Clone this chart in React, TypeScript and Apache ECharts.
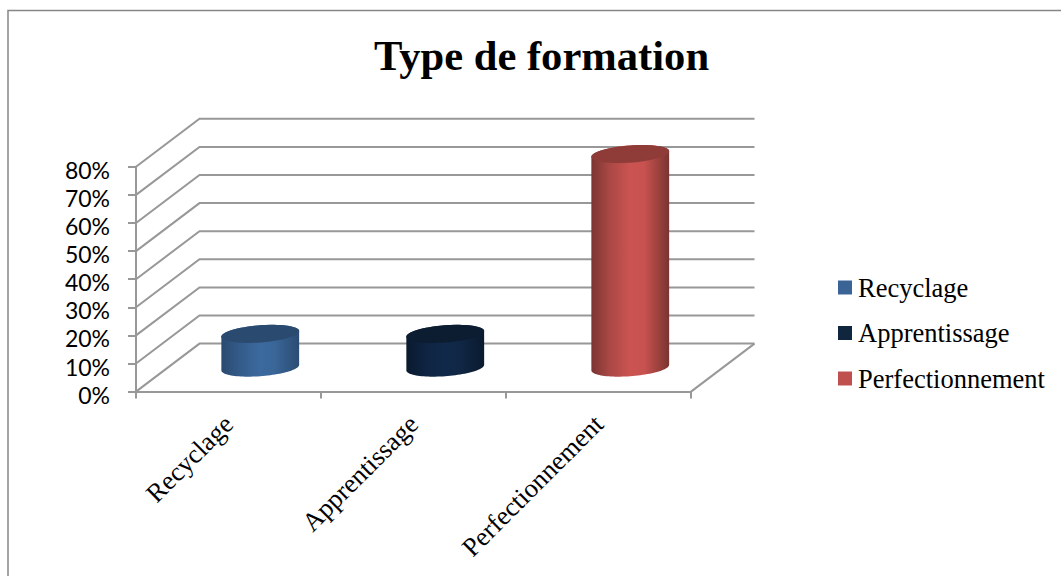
import React, { useEffect, useRef } from "react";
import * as echarts from "echarts";

const title = "Type de formation";
const categories = ["Recyclage", "Apprentissage", "Perfectionnement"];
const seriesNames = ["Recyclage", "Apprentissage", "Perfectionnement"];
const values = [12, 12, 76];
const yTicks = [0, 10, 20, 30, 40, 50, 60, 70, 80];
const swatchColors = ["#3A6496", "#10263F", "#C0504D"];
const capColors = ["#2B4A70", "#0C1C31", "#8F3C39"];
const sideStops = [
  ["#2A4A70", "#335A88", "#3C6A9E", "#3A6698", "#2B4C73"],
  ["#0A1A2E", "#0E2340", "#11294A", "#102745", "#0A1A2E"],
  ["#7A3532", "#A84744", "#CB5451", "#C8524F", "#7A3431"],
];

// Perspective of the box: how far the back wall sits from the front plane.
const DEPTH_X = 63.5;
const DEPTH_Y = -48;
const GRID = { left: 136, top: 166.8, width: 555, height: 224.8 };
const WALL_COLOR = "#989898";
const WALL_WIDTH = 2;

function ellipsePoints(cx: number, cy: number, a: number, p: number, q: number, from: number, to: number) {
  const pts: number[][] = [];
  const steps = 48;
  for (let i = 0; i <= steps; i++) {
    const t = from + ((to - from) * i) / steps;
    pts.push([cx + a * Math.cos(t) + p * Math.sin(t), cy + q * Math.sin(t)]);
  }
  return pts;
}

function renderCylinder(index: number) {
  return (params: any, api: any) => {
    const band = params.coordSys.width / categories.length;
    const base = api.coord([api.value(0), 0]);
    const top = api.coord([api.value(0), api.value(1)]);
    const cx = base[0] + DEPTH_X / 2;
    const a = band * 0.2;
    const p = 12;
    const q = p * (DEPTH_Y / DEPTH_X);
    const t0 = Math.atan2(p, a);
    const baseY = base[1] + DEPTH_Y / 2;
    const topY = top[1] + DEPTH_Y / 2;
    const side = [
      ...ellipsePoints(cx, topY, a, p, q, t0, t0 + Math.PI),
      ...ellipsePoints(cx, baseY, a, p, q, t0 + Math.PI, t0 + 2 * Math.PI),
    ];
    const stops = sideStops[index];
    return {
      type: "group",
      children: [
        {
          type: "polygon",
          shape: { points: side },
          style: {
            fill: new echarts.graphic.LinearGradient(0, 0, 1, 0, [
              { offset: 0, color: stops[0] },
              { offset: 0.22, color: stops[1] },
              { offset: 0.5, color: stops[2] },
              { offset: 0.68, color: stops[3] },
              { offset: 1, color: stops[4] },
            ]),
          },
        },
        {
          type: "polygon",
          shape: { points: ellipsePoints(cx, topY, a, p, q, 0, 2 * Math.PI) },
          style: { fill: capColors[index] },
        },
      ],
    };
  };
}

function renderWalls(params: any, api: any) {
  const { x, width } = params.coordSys;
  const y = api.coord([0, api.value(1)])[1];
  const style = { stroke: WALL_COLOR, lineWidth: WALL_WIDTH, fill: "none" };
  const points = [
    [x, y],
    [x + DEPTH_X, y + DEPTH_Y],
    [x + width + DEPTH_X, y + DEPTH_Y],
  ];
  const children: any[] = [{ type: "polyline", shape: { points }, style }];
  if (api.value(1) === 0) {
    // Right edge of the floor
    children.push({
      type: "line",
      shape: { x1: x + width, y1: y, x2: x + width + DEPTH_X, y2: y + DEPTH_Y },
      style,
    });
  }
  return { type: "group", children };
}

export default function App() {
  const ref = useRef<HTMLDivElement>(null);

  useEffect(() => {
    document.body.style.margin = "0";
    const chart = echarts.init(ref.current!, undefined, { renderer: "svg" });
    chart.setOption({
      animation: false,
      backgroundColor: "#FFFFFF",
      title: {
        text: title,
        left: 536.5,
        top: 29,
        textAlign: "center",
        textStyle: {
          fontFamily: "Liberation Serif",
          fontWeight: "bold",
          fontSize: 42.6,
          color: "#000000",
        },
      },
      grid: GRID,
      legend: {
        orient: "vertical",
        left: 838,
        top: 274,
        itemWidth: 14,
        itemHeight: 14,
        itemGap: 18.5,
        icon: "rect",
        data: seriesNames.map((name, i) => ({
          name,
          itemStyle: { color: swatchColors[i] },
        })),
        textStyle: {
          fontFamily: "Liberation Serif",
          fontSize: 26.5,
          color: "#000000",
          padding: [0, 0, 0, 1],
        },
        padding: 0,
        selectedMode: false,
      },
      xAxis: {
        type: "category",
        data: categories,
        axisLine: { lineStyle: { color: WALL_COLOR, width: WALL_WIDTH } },
        axisTick: { show: true, length: 7, lineStyle: { color: WALL_COLOR, width: WALL_WIDTH } },
        axisLabel: {
          rotate: 45,
          margin: 28,
          fontFamily: "Liberation Serif",
          fontSize: 26.5,
          color: "#000000",
          interval: 0,
        },
        splitLine: { show: false },
      },
      yAxis: {
        type: "value",
        min: 0,
        max: 80,
        interval: 10,
        axisLine: { show: true, lineStyle: { color: WALL_COLOR, width: WALL_WIDTH } },
        axisTick: { show: true, length: 8, lineStyle: { color: WALL_COLOR, width: WALL_WIDTH } },
        axisLabel: {
          formatter: (v: number) => `${yTicks[yTicks.indexOf(v)]}%`,
          margin: 26,
          // Labels sit a few pixels under their tick
          verticalAlign: "top",
          lineHeight: 6,
          fontFamily: "Lato",
          fontSize: 23,
          color: "#000000",
        },
        splitLine: { show: false },
      },
      series: [
        {
          type: "custom",
          name: "walls",
          silent: true,
          renderItem: renderWalls,
          data: yTicks.map((v) => [0, v]),
          z: 1,
        },
        ...seriesNames.map((name, i) => ({
          type: "custom",
          name,
          silent: true,
          itemStyle: { color: swatchColors[i] },
          renderItem: renderCylinder(i),
          data: [[i, values[i]]],
          z: 2,
        })),
      ],
      graphic: [
        {
          type: "rect",
          shape: { x: 8, y: 10.5, width: 1100, height: 600 },
          style: { fill: "none", stroke: "#868686", lineWidth: 1.5 },
          silent: true,
          z: 0,
        },
      ],
    });
    return () => chart.dispose();
  }, []);

  return <div ref={ref} style={{ width: 1061, height: 576, position: "absolute", left: 0, top: 0, overflow: "hidden" }} />;
}
